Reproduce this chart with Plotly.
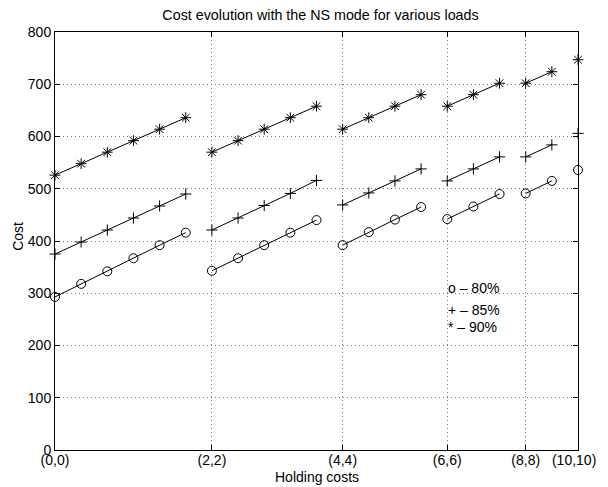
import plotly.graph_objects as go

# group labels (holding cost pairs) and number of points per group
tick_labels = ["(0,0)", "(2,2)", "(4,4)", "(6,6)", "(8,8)", "(10,10)\u00a0\u00a0"]
group_sizes = [6, 5, 4, 3, 2, 1]

# cost values, per group
load80 = [[293, 318, 342, 367, 392, 416],
          [343, 367, 392, 416, 440],
          [392, 417, 441, 465],
          [442, 466, 490],
          [491, 515],
          [536]]
load85 = [[375, 398, 421, 444, 467, 490],
          [421, 444, 468, 491, 516],
          [469, 492, 515, 538],
          [515, 538, 561],
          [561, 584],
          [606]]
load90 = [[526, 548, 570, 592, 614, 636],
          [570, 592, 614, 636, 658],
          [614, 636, 658, 680],
          [658, 680, 702],
          [702, 724],
          [747]]

legend_texts = ["o \u2013 80%", "+ \u2013 85%", "* \u2013 90%"]

fig = go.Figure()

series = [(load80, "circle-open", 9), (load85, "cross-thin-open", 8), (load90, "asterisk-open", 9)]
tick_pos = []
start = 0
for n in group_sizes:
    tick_pos.append(start)
    start += n

for vals, sym, size in series:
    xs, ys = [], []
    for g, grp in enumerate(vals):
        s = tick_pos[g]
        for i, v in enumerate(grp):
            xs.append(s + i)
            ys.append(v)
        xs.append(None)
        ys.append(None)
    fig.add_trace(go.Scatter(
        x=xs, y=ys, mode="lines+markers", connectgaps=False,
        line=dict(color="black", width=1),
        marker=dict(symbol=sym, size=size, color="black", line=dict(color="black", width=1)),
        cliponaxis=False, showlegend=False))

ann_y = [310, 268, 235]
for t, yv in zip(legend_texts, ann_y):
    fig.add_annotation(x=tick_pos[3], y=yv, text=t, showarrow=False, xanchor="left",
                       yanchor="middle", font=dict(size=14, color="black"), xshift=-1)

# axis titles
fig.add_annotation(x=0.5, y=0, xref="paper", yref="paper", text="Holding costs", showarrow=False,
                   xanchor="center", yanchor="middle", yshift=-27, font=dict(size=14))
fig.add_annotation(x=0, y=0.51, xref="paper", yref="paper", text="Cost", showarrow=False,
                   textangle=-90, xanchor="center", yanchor="middle", xshift=-37, font=dict(size=14))

# the page body has an 8px margin, so the figure is laid out 8px up/left
OFF = 8
font = "Liberation Sans, Arial, Helvetica, sans-serif"
grid = dict(showgrid=True, gridcolor="#777", griddash="1px,3px", gridwidth=1,
            showline=True, linecolor="black", linewidth=1, mirror="ticks",
            ticks="inside", ticklen=5, tickcolor="black", zeroline=False,
            tickfont=dict(size=14), ticklabeloverflow="allow")
fig.update_layout(
    width=608, height=487,
    margin=dict(l=54.5 - OFF, r=22 + OFF, t=32 - OFF, b=37 + OFF),
    paper_bgcolor="white", plot_bgcolor="white",
    font=dict(family=font, size=14, color="black"),
    title=dict(text="Cost evolution with the NS mode for various loads", x=(320.5 - OFF) / 608,
               xanchor="center", y=1 - (15 - OFF) / 487, yanchor="middle", font=dict(size=14.3)),
    xaxis=dict(range=[0, 20], tickmode="array", tickvals=tick_pos, ticktext=tick_labels,
               ticklabelstandoff=-3, **grid),
    yaxis=dict(range=[0, 800], tickvals=list(range(0, 801, 100)), **grid),
)

fig.write_html("out.html", config={"displayModeBar": False})
